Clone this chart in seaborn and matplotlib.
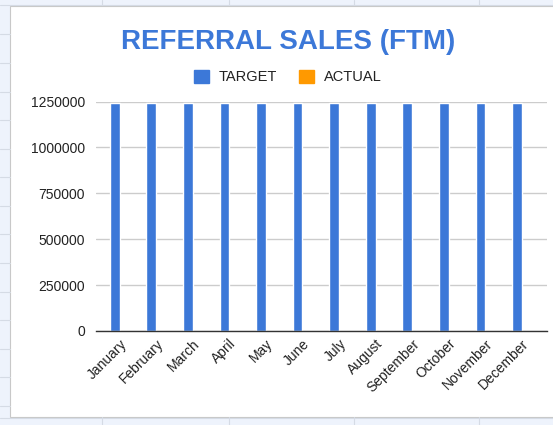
import matplotlib
matplotlib.use("Agg")
import matplotlib.pyplot as plt
import seaborn as sns
import pandas as pd
from matplotlib.patches import Rectangle
from matplotlib.lines import Line2D

months = ["January", "February", "March", "April", "May", "June", "July",
          "August", "September", "October", "November", "December"]
target = [1240000] * 12
actual = [0] * 12
series_names = ["TARGET", "ACTUAL"]
yticks = [0, 250000, 500000, 750000, 1000000, 1250000]

df = pd.DataFrame({
    "month": months * 2,
    "value": target + actual,
    "series": [series_names[0]] * 12 + [series_names[1]] * 12,
})

sns.set_theme(style="white")
plt.rcParams['font.family'] = ['Liberation Sans', 'DejaVu Sans']

W, H = 553, 425
fig = plt.figure(figsize=(W / 100, H / 100), dpi=100)
fig.patch.set_facecolor("#eef3fc")

# spreadsheet background grid
for yy in [34, 63, 92, 120, 149, 177, 206, 234, 263, 292, 320, 349, 377, 406]:
    fig.add_artist(Line2D([0, 9.5 / W], [1 - yy / H] * 2, color="#d5dbe5", lw=0.8))
for xx in [102, 229, 354, 479]:
    fig.add_artist(Line2D([xx / W] * 2, [1, 1 - 5 / H], color="#d5dbe5", lw=0.8))
    fig.add_artist(Line2D([xx / W] * 2, [1 - 417 / H, 0], color="#d5dbe5", lw=0.8))
fig.add_artist(Line2D([0, 1], [1 - 5 / H] * 2, color="#d5dbe5", lw=0.8))
fig.add_artist(Line2D([0, 1], [1 - 417.5 / H] * 2, color="#d5dbe5", lw=0.8))

# chart card
fig.add_artist(Rectangle((9.5 / W, 1 - 417 / H), 1.0, (417 - 5.5) / H,
                         transform=fig.transFigure, facecolor="white",
                         edgecolor="#c8c8c8", lw=0.8, zorder=0))

ax = fig.add_axes([96 / W, 1 - 331 / H, (547 - 96) / W, (331 - 101.5) / H])
ax.set_facecolor("none")

palette = {"TARGET": "#3c78d8", "ACTUAL": "#ff9900"}
sns.barplot(data=df, x="month", y="value", hue="series", palette=palette,
            width=0.53, ax=ax, legend=False, saturation=1)

ax.set_ylim(0, 1250000)
ax.set_xlim(-0.644, 11.69)
ax.set_yticks(yticks)
ax.set_yticklabels([str(v) for v in yticks], fontsize=10, color="#222222")
ax.tick_params(axis="y", length=0, pad=8)
ax.tick_params(axis="x", length=0, pad=4)
for lab in ax.get_xticklabels():
    lab.set_rotation(45)
    lab.set_ha("right")
    lab.set_rotation_mode("anchor")
    lab.set_fontsize(10)
    lab.set_color("#222222")
ax.set_xlabel("")
ax.set_ylabel("")
ax.yaxis.grid(True, color="#cccccc", lw=1)
ax.set_axisbelow(True)
for s in ["top", "right", "left"]:
    ax.spines[s].set_visible(False)
ax.spines["bottom"].set_color("#333333")
ax.spines["bottom"].set_linewidth(1)

fig.text(288 / W, 1 - 42 / H, "REFERRAL SALES (FTM)", ha="center", va="center",
         fontsize=20, fontweight="bold", color="#3c78d8")

handles = [Rectangle((0, 0), 1, 1, color=palette[n]) for n in series_names]
fig.legend(handles, series_names, loc="center", bbox_to_anchor=(288 / W, 1 - 77 / H),
           ncol=2, frameon=False, fontsize=10.5, handlelength=1.0, handleheight=1.0,
           handletextpad=0.7, columnspacing=1.5, labelcolor="#222222")

fig.savefig("out.png", dpi=100)
